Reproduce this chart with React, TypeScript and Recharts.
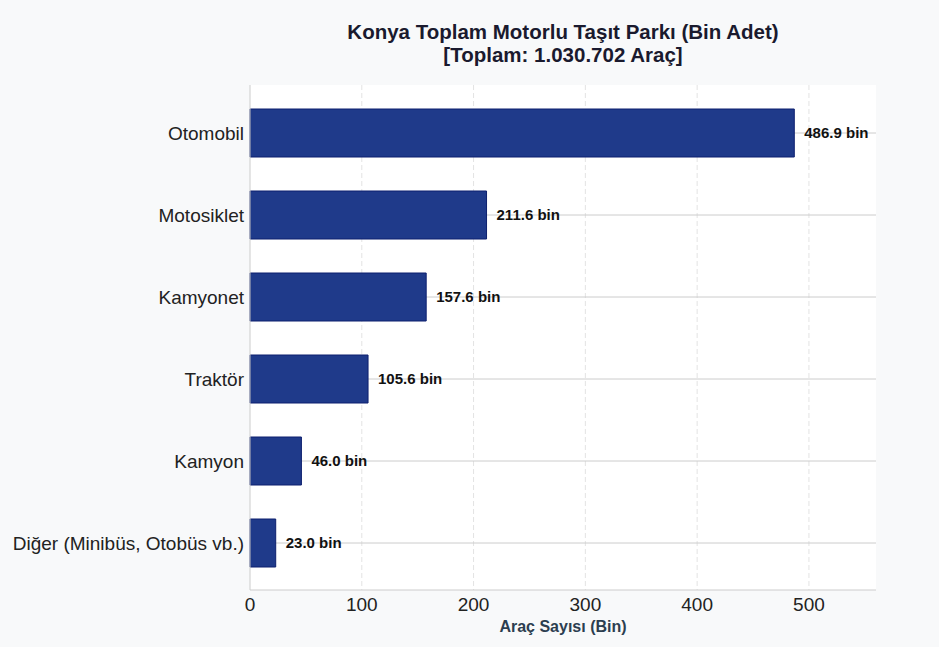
import React from "react";
import { BarChart, Bar, XAxis, YAxis, CartesianGrid, LabelList } from "recharts";

const categories = ["Otomobil", "Motosiklet", "Kamyonet", "Traktör", "Kamyon", "Diğer (Minibüs, Otobüs vb.)"];
const values = [486.9, 211.6, 157.6, 105.6, 46.0, 23.0];
const xTicks = [0, 100, 200, 300, 400, 500];
const titleLines = ["Konya Toplam Motorlu Taşıt Parkı (Bin Adet)", "[Toplam: 1.030.702 Araç]"];
const xLabel = "Araç Sayısı (Bin)";

const data = categories.map((name, i) => ({ name, value: values[i] }));

const FONT = "'Liberation Sans', Arial, sans-serif";

const asFn = (s: any) => (typeof s === "function" ? s : s && s.map ? (v: any) => s.map(v) : null);

const vGen = (props: any) => {
  const f = asFn(props?.xAxis?.scale);
  if (!f) return [];
  return xTicks.slice(1).map((t) => f(t));
};

const hGen = (props: any) => {
  const s = props?.yAxis?.scale;
  const f = asFn(s);
  if (!f) return [];
  const bw = typeof s?.bandwidth === "function" ? s.bandwidth() : 0;
  return categories.map((c) => f(c) + bw / 2);
};

export default function App() {
  return (
    <div style={{ position: "relative", width: 939, height: 647, background: "#f8f9fa", fontFamily: FONT }}>
      <style>{`body{margin:0;}`}</style>
      <div
        style={{
          position: "absolute",
          left: 250,
          width: 626,
          top: 20,
          textAlign: "center",
          fontWeight: "bold",
          fontSize: 20.5,
          lineHeight: "23px",
          color: "#1a1a2e",
          zIndex: 2,
        }}
      >
        {titleLines.map((t) => (
          <div key={t}>{t}</div>
        ))}
      </div>
      <BarChart
        width={939}
        height={647}
        data={data}
        layout="vertical"
        margin={{ top: 85, right: 63, bottom: 7, left: 10 }}
        barSize={48}
        style={{ position: "absolute", left: 0, top: 0 }}
      >
        <CartesianGrid
          horizontal={false}
          vertical={true}
          stroke="#e3e3e3"
          strokeDasharray="5 3"
          fill="#ffffff"
          verticalCoordinatesGenerator={vGen}
        />
        <CartesianGrid horizontal={true} vertical={false} stroke="#cccccc" horizontalCoordinatesGenerator={hGen} />
        <XAxis
          type="number"
          domain={[0, 560]}
          ticks={xTicks}
          height={50}
          tickLine={false}
          axisLine={{ stroke: "#cccccc" }}
          tick={{ fill: "#222", fontSize: 19, fontFamily: FONT }}
          tickMargin={2}
          label={{
            value: xLabel,
            position: "insideBottom",
            offset: 8,
            fill: "#2c3e50",
            fontSize: 16,
            fontWeight: "bold",
            fontFamily: FONT,
          }}
        />
        <YAxis
          type="category"
          dataKey="name"
          width={240}
          padding={{ top: 7, bottom: 6 }}
          tickLine={false}
          axisLine={{ stroke: "#cccccc" }}
          tick={{ fill: "#222", fontSize: 19, fontFamily: FONT }}
          tickMargin={0}
        />
        <Bar dataKey="value" fill="#1f3a8a" stroke="#0d1f6e" strokeWidth={1} isAnimationActive={false}>
          <LabelList
            dataKey="value"
            position="right"
            offset={10}
            formatter={(v: any) => `${Number(v).toFixed(1)} bin`}
            style={{ fill: "#111", fontSize: 15, fontWeight: "bold", fontFamily: FONT }}
          />
        </Bar>
      </BarChart>
    </div>
  );
}
